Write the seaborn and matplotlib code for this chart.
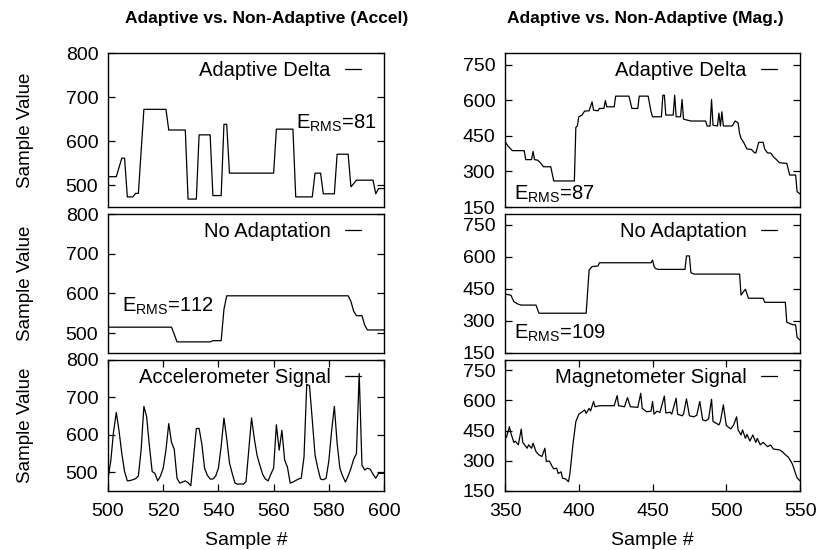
import matplotlib
matplotlib.use("Agg")
import matplotlib.pyplot as plt
import numpy as np
import pandas as pd
import seaborn as sns

# ---------------- accelerometer window (samples 500..600) ----------------
accel_samples = list(range(500, 601))

accel_signal = [
    484, 530, 608, 660, 610, 550, 502, 477, 478, 480,
    483, 490, 560, 676, 648, 570, 502, 497, 477, 490,
    511, 560, 630, 580, 561, 484, 471, 474, 477, 472,
    464, 540, 617, 617, 575, 510, 492, 482, 482, 490,
    511, 570, 645, 590, 525, 497, 471, 468, 469, 468,
    475, 560, 645, 590, 545, 519, 495, 482, 477, 495,
    511, 627, 559, 612, 532, 514, 471, 474, 478, 482,
    484, 540, 735, 731, 640, 546, 511, 482, 480, 484,
    530, 610, 676, 578, 511, 490, 474, 490, 510, 535,
    550, 764, 519, 506, 511, 508, 495, 484, 497, 497,
    497,
]

accel_adaptive = [
    519, 519, 519, 519, 540, 561, 561, 473, 473, 473,
    481, 481, 577, 672, 672, 672, 672, 672, 672, 672,
    672, 672, 625, 625, 625, 625, 625, 625, 625, 468,
    468, 468, 468, 614, 614, 614, 614, 614, 476, 476,
    476, 476, 638, 638, 527, 527, 527, 527, 527, 527,
    527, 527, 527, 527, 527, 527, 527, 527, 527, 527,
    527, 627, 627, 627, 627, 627, 627, 627, 473, 473,
    473, 473, 473, 473, 473, 527, 527, 527, 480, 480,
    480, 480, 480, 570, 570, 570, 570, 570, 496, 503,
    511, 511, 511, 511, 511, 511, 511, 480, 492, 492,
    492,
]

accel_fixed = [
    515, 515, 515, 515, 515, 515, 515, 515, 515, 515,
    515, 515, 515, 515, 515, 515, 515, 515, 515, 515,
    515, 515, 515, 515, 497, 478, 478, 478, 478, 478,
    478, 478, 478, 478, 478, 478, 478, 478, 481, 481,
    481, 481, 560, 594, 594, 594, 594, 594, 594, 594,
    594, 594, 594, 594, 594, 594, 594, 594, 594, 594,
    594, 594, 594, 594, 594, 594, 594, 594, 594, 594,
    594, 594, 594, 594, 594, 594, 594, 594, 594, 594,
    594, 594, 594, 594, 594, 594, 594, 594, 580, 555,
    544, 544, 544, 520, 508, 508, 508, 508, 508, 508,
    508,
]

# ---------------- magnetometer window (samples 350..550) ----------------
mag_signal_x = [
    350, 351, 353, 354, 356, 357, 359, 361, 362, 365, 366, 368, 369, 371,
    373, 375, 377, 378, 380, 382, 383, 385, 386, 388, 389, 391, 393, 394,
    396, 398, 400, 402, 404, 405, 407, 408, 410, 411, 414, 417, 424, 426,
    427, 431, 433, 435, 440, 442, 443, 446, 449, 450, 451, 453, 455, 458,
    459, 462, 463, 466, 467, 470, 471, 473, 475, 478, 480, 482, 484, 486,
    488, 490, 491, 495, 496, 498, 500, 503, 505, 507, 508, 510, 511, 513,
    514, 516, 518, 520, 521, 523, 525, 528, 530, 532, 536, 538, 540, 542,
    544, 545, 547, 548, 550,
]
mag_signal_y = [
    411, 418, 469, 436, 391, 397, 379, 457, 391, 362, 379, 362, 387, 345,
    329, 321, 362, 296, 299, 271, 260, 263, 237, 245, 213, 210, 196, 237,
    379, 494, 531, 541, 552, 535, 560, 547, 594, 568, 573, 573, 573, 623,
    573, 568, 613, 568, 565, 635, 560, 543, 546, 594, 531, 546, 540, 621,
    537, 541, 531, 610, 531, 523, 531, 607, 523, 518, 526, 594, 503, 498,
    508, 605, 495, 478, 495, 577, 475, 458, 478, 518, 453, 428, 453, 411,
    431, 398, 428, 391, 411, 379, 391, 370, 378, 358, 354, 345, 330, 318,
    295, 280, 235, 215, 200,
]

mag_adaptive_x = [
    350, 352, 355, 363, 364, 368, 369, 370, 372, 374, 376, 381, 383, 397,
    398, 399, 400, 402, 404, 407, 409, 410, 413, 414, 417, 418, 419, 424,
    425, 434, 436, 440, 441, 447, 449, 450, 456, 457, 458, 459, 464, 465,
    466, 469, 470, 471, 474, 476, 486, 487, 489, 490, 491, 494, 495, 496,
    497, 498, 504, 506, 508, 509, 510, 512, 514, 517, 519, 520, 522, 525,
    526, 528, 530, 532, 534, 536, 541, 543, 547, 548, 550,
]
mag_adaptive_y = [
    426, 407, 388, 388, 350, 350, 385, 350, 348, 337, 320, 320, 260, 260,
    486, 492, 531, 537, 555, 556, 594, 559, 556, 566, 566, 599, 573, 573,
    618, 618, 566, 566, 618, 618, 552, 531, 531, 622, 622, 538, 538, 622,
    531, 531, 604, 521, 516, 513, 513, 492, 492, 604, 495, 492, 546, 492,
    552, 492, 492, 513, 505, 460, 440, 420, 395, 393, 380, 378, 423, 423,
    395, 378, 378, 362, 350, 337, 334, 285, 285, 215, 205,
]

mag_fixed_x = [
    350, 354, 356, 359, 361, 371, 373, 405, 407, 409, 413, 414, 449, 450,
    451, 452, 454, 472, 473, 475, 476, 478, 509, 510, 512, 513, 515, 525,
    526, 540, 541, 545, 547, 548, 550,
]
mag_fixed_y = [
    426, 420, 390, 378, 374, 374, 336, 336, 538, 554, 557, 572, 572, 585,
    555, 545, 541, 541, 604, 604, 526, 519, 519, 421, 440, 448, 406, 406,
    387, 387, 294, 282, 282, 223, 210,
]

accel_rms = {"adaptive": 81, "fixed": 112}
mag_rms = {"adaptive": 87, "fixed": 109}

# ---------------- styling ----------------
sns.set_theme(style="white")
plt.rcParams["font.family"] = ["Liberation Sans", "DejaVu Sans"]
plt.rcParams["mathtext.default"] = "regular"
plt.rcParams["axes.edgecolor"] = "black"
plt.rcParams["axes.linewidth"] = 1.0
for key in ("text.color", "axes.labelcolor", "xtick.color", "ytick.color",
            "legend.labelcolor"):
    plt.rcParams[key] = "black"

TICK_FS = 14
LABEL_FS = 13.5
KEY_FS = 14.5

fig = plt.figure(figsize=(8.22, 5.5), dpi=100)
W, H = 822, 550

left_x, left_w = 0.1314, 0.3358
right_x, right_w = 0.6144, 0.3589
rows = [(0.6236, 0.2800), (0.3582, 0.2527), (0.1073, 0.2382)]


def draw_panel(ax, xs, ys, label, xlim, ylim, yticks, bottom_row):
    df = pd.DataFrame({"sample": xs, "value": ys})
    sns.lineplot(data=df, x="sample", y="value", ax=ax, color="black",
                 linewidth=0.9, label=label, sort=False, estimator=None)
    ax.set_xlim(*xlim)
    ax.set_ylim(*ylim)
    ax.set_yticks(yticks)
    ax.tick_params(axis="y", direction="in", length=5, width=0.9,
                   left=True, right=True, labelsize=TICK_FS, pad=7,
                   colors="black")
    if bottom_row:
        ax.tick_params(axis="x", direction="in", length=5, width=0.9,
                       bottom=True, top=True, labelsize=TICK_FS, pad=9,
                       colors="black")
        ax.set_xlabel("Sample #", fontsize=TICK_FS, labelpad=8,
                      color="black")
    else:
        ax.tick_params(axis="x", bottom=False, top=False, labelbottom=False)
        ax.set_xlabel("")
    ax.set_ylabel("")
    for sp in ax.spines.values():
        sp.set_color("black")
        sp.set_linewidth(1.0)

    # key in the upper right, label first then the line sample
    pos = ax.get_position()
    w_px, h_px = pos.width * W, pos.height * H
    ax.legend(loc="upper right", frameon=False, markerfirst=False,
              fontsize=KEY_FS, handlelength=0.8, handletextpad=0.7,
              borderpad=0.0, borderaxespad=0.0, labelcolor="black",
              bbox_to_anchor=(1 - 23 / w_px, 1 - 8 / h_px))


left_panels = [
    (accel_adaptive, "Adaptive Delta"),
    (accel_fixed, "No Adaptation"),
    (accel_signal, "Accelerometer Signal"),
]
right_panels = [
    (mag_adaptive_x, mag_adaptive_y, "Adaptive Delta"),
    (mag_fixed_x, mag_fixed_y, "No Adaptation"),
    (mag_signal_x, mag_signal_y, "Magnetometer Signal"),
]

left_axes, right_axes = [], []
for i, (ys, label) in enumerate(left_panels):
    b, h = rows[i]
    ax = fig.add_axes([left_x, b, left_w, h])
    draw_panel(ax, accel_samples, ys, label, (500, 600), (450, 800),
               [500, 600, 700, 800], i == 2)
    ax.set_xticks([500, 520, 540, 560, 580, 600])
    ax.set_ylabel("Sample Value", fontsize=LABEL_FS, color="black")
    ax.yaxis.set_label_coords(-74 / (left_w * W), 0.5)
    left_axes.append(ax)

for i, (xs, ys, label) in enumerate(right_panels):
    b, h = rows[i]
    ax = fig.add_axes([right_x, b, right_w, h])
    draw_panel(ax, xs, ys, label, (350, 550), (150, 800),
               [150, 300, 450, 600, 750], i == 2)
    ax.set_xticks([350, 400, 450, 500, 550])
    right_axes.append(ax)

# error annotations
left_axes[0].text(568, 629, f"E$_{{RMS}}$={accel_rms['adaptive']}",
                  fontsize=KEY_FS, ha="left", va="baseline", color="black")
left_axes[1].text(505, 554, f"E$_{{RMS}}$={accel_rms['fixed']}",
                  fontsize=KEY_FS, ha="left", va="baseline", color="black")
right_axes[0].text(356, 182, f"E$_{{RMS}}$={mag_rms['adaptive']}",
                   fontsize=KEY_FS, ha="left", va="baseline", color="black")
right_axes[1].text(356, 219, f"E$_{{RMS}}$={mag_rms['fixed']}",
                   fontsize=KEY_FS, ha="left", va="baseline", color="black")

# column titles
fig.text(267 / W, 1 - 18 / H, "Adaptive vs. Non-Adaptive (Accel)",
         fontsize=12.5, fontweight="bold", ha="center", va="center",
         color="black")
fig.text(645 / W, 1 - 18 / H, "Adaptive vs. Non-Adaptive (Mag.)",
         fontsize=12.5, fontweight="bold", ha="center", va="center",
         color="black")

fig.savefig("out.png", dpi=100)
